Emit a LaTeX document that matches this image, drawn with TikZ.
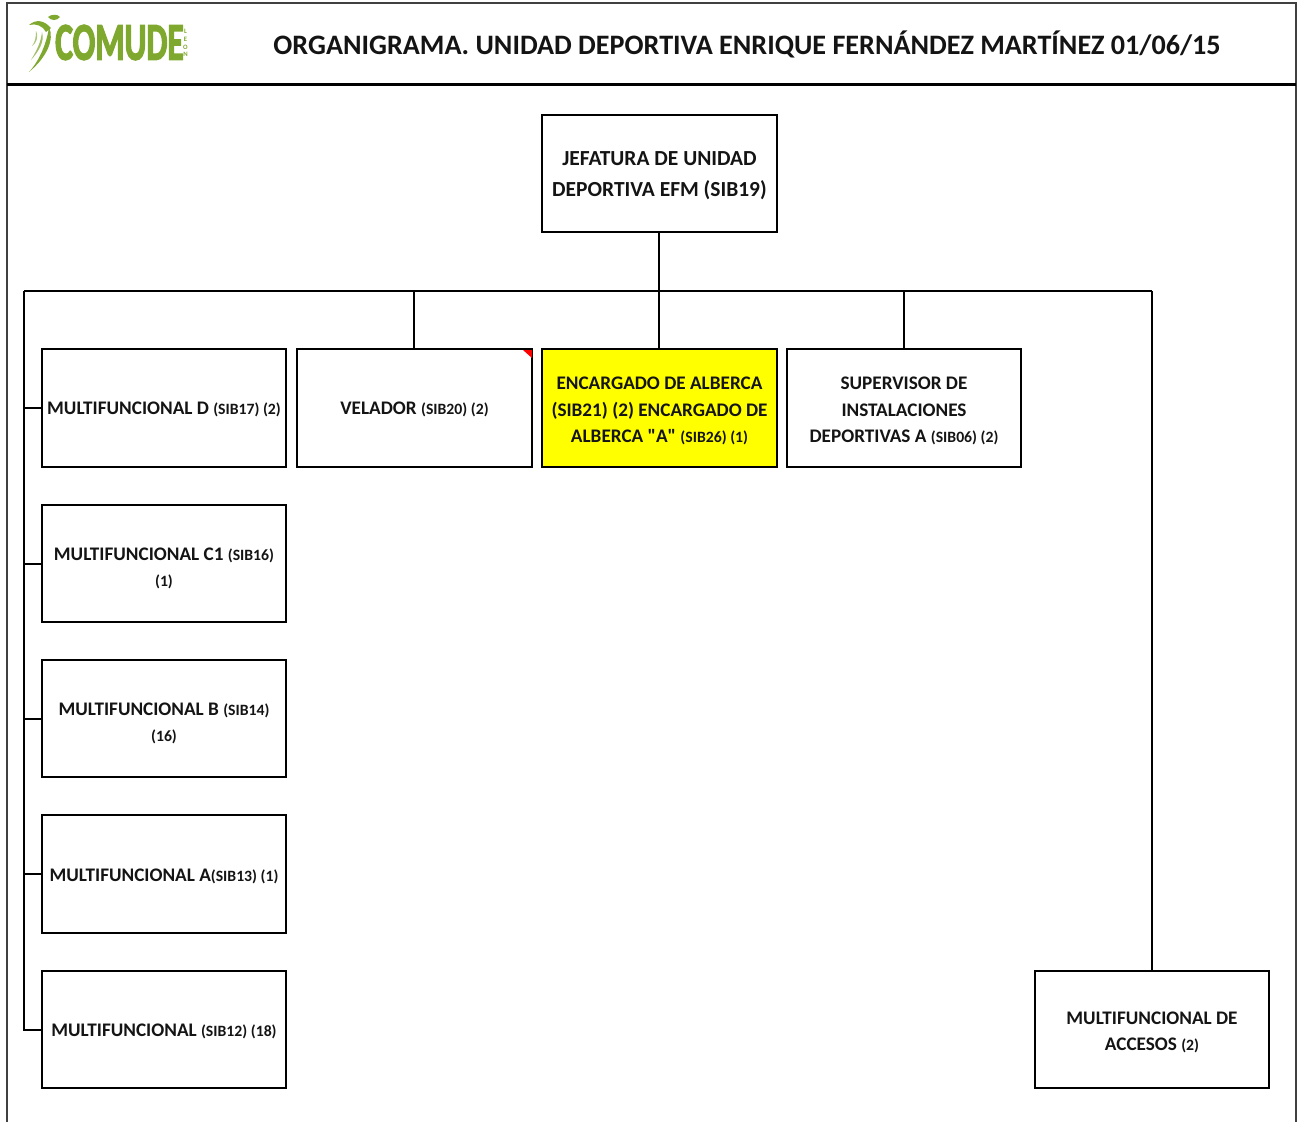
\documentclass[tikz,border=0pt]{standalone}
\usepackage{fontspec}
\setmainfont{Carlito}
\newfontfamily\logofont[FakeBold=3]{Carlito Bold}
\newfontfamily\plainq{Carlito Bold}
\definecolor{logogreen}{HTML}{7FA82E}
\definecolor{framegray}{HTML}{404040}
\definecolor{purey}{RGB}{255,255,0}
\newcommand{\smtxt}[1]{{\fontsize{11.8}{13}\selectfont #1}}
\newcommand{\dq}{{\plainq\char34 }}
\newcommand{\dn}[1]{\rule{0pt}{#1pt}}
\tikzset{
  x=0.75pt,y=-0.75pt,
  orgbox/.style={draw=black,line width=1.5pt,fill=white,rectangle,inner sep=0pt,align=center,font=\fontsize{14.4}{20}\bfseries\selectfont,text=black!92},
  lbox/.style={orgbox,minimum width=183pt,minimum height=88pt},
  wbox/.style={orgbox,minimum width=176.25pt,minimum height=88pt},
  nbox/.style={orgbox,minimum width=175.5pt,minimum height=88pt},
  conn/.style={draw=black,line width=1.5pt},
  frameline/.style={draw=framegray,line width=1.5pt},
  swoosh/.style={fill=logogreen,draw=none},
}
\begin{document}
\begin{tikzpicture}
\useasboundingbox (0,0) rectangle (1299,1122);
\fill[white] (0,0) rectangle (1299,1122);
% frame
\coordinate (fbl) at (7,1122);
\coordinate (ftl) at (7,3);
\coordinate (ftr) at (1296,3);
\coordinate (fbr) at (1296,1122);
\draw[frameline] (fbl) -- (ftl) -- (ftr) -- (fbr);
\coordinate (hl) at (7,84.5);
\coordinate (hr) at (1296,84.5);
\draw[draw=black,line width=2.25pt] (hl) -- (hr);
% title
\node[font=\fontsize{21.1}{24}\bfseries\selectfont,text=black!92,inner sep=0pt] (title) at (747,44.5) {ORGANIGRAMA. UNIDAD DEPORTIVA ENRIQUE FERNÁNDEZ MARTÍNEZ 01/06/15};
% logo
\node[font=\logofont\fontsize{33}{36}\selectfont,text=logogreen,inner sep=0pt,xscale=0.76,yscale=1.2] (logo) at (119.5,42.5) {COMUDE};
\node[font=\fontsize{5}{5.8}\bfseries\selectfont,text=logogreen,inner sep=0pt,align=center] (leon) at (185.5,43) {L\\E\\O\\N};
\fill[swoosh] (29,72) .. controls (40,60) and (47,42) .. (49,27) .. controls (55,40) and (46,58) .. (29,72) -- cycle;
\fill[swoosh] (51,28) .. controls (44,20) and (36,19) .. (29,25) .. controls (36,23) and (43,26) .. (46,32) -- cycle;
\fill[swoosh] (48,17) .. controls (51,14) and (58,14) .. (60,17) .. controls (57,21) and (51,21) .. (48,17) -- cycle;
\fill[swoosh,opacity=.75] (31,60) .. controls (37,50) and (41,42) .. (42,32) .. controls (45,42) and (38,52) .. (31,60) -- cycle;
\fill[swoosh,opacity=.65] (32,46) .. controls (35,42) and (36,38) .. (36,31) .. controls (39,38) and (36,43) .. (32,46) -- cycle;
% boxes
\node[wbox,font=\fontsize{16.1}{20}\bfseries\selectfont] (jef) at (659.5,173.5) {\dn{13.5}JEFATURA DE UNIDAD\\[3pt]DEPORTIVA EFM (SIB19)};
\node[wbox] (vel) at (414.5,408) {\dn{10.8}VELADOR \smtxt{(SIB20) (2)}};
\node[wbox,fill=purey] (alb) at (659.5,408) {\dn{13.8}ENCARGADO DE ALBERCA\\(SIB21) (2) ENCARGADO DE\\ALBERCA \dq A\dq{} \smtxt{(SIB26) (1)}};
\node[nbox] (sup) at (904,408) {\dn{13.8}SUPERVISOR DE\\INSTALACIONES\\DEPORTIVAS A \smtxt{(SIB06) (2)}};
\node[lbox] (md) at (164,408) {\dn{10.8}MULTIFUNCIONAL D \smtxt{(SIB17) (2)}};
\node[lbox] (mc) at (164,563.5) {\dn{17.5}MULTIFUNCIONAL C1 \smtxt{(SIB16)}\\[-0.5pt] \smtxt{(1)}};
\node[lbox] (mb) at (164,718.5) {\dn{17.5}MULTIFUNCIONAL B \smtxt{(SIB14)}\\[-0.5pt] \smtxt{(16)}};
\node[lbox] (ma) at (164,874) {\dn{12.3}MULTIFUNCIONAL A\smtxt{(SIB13) (1)}};
\node[lbox] (mm) at (164,1029.5) {\dn{12.3}MULTIFUNCIONAL \smtxt{(SIB12) (18)}};
\node[nbox] (acc) at (1152,1029.5) {\dn{13.8}MULTIFUNCIONAL DE\\ACCESOS \smtxt{(2)}};
% red comment marker
\fill[red] (523,350) -- (532,350) -- (532,358) -- cycle;
% connectors
\coordinate (busl) at (24,291);
\coordinate (busr) at (1152,291);
\draw[conn] (busl) -- (busr);
\draw[conn] ([xshift=-0.375pt]jef.south) -- ([xshift=-0.375pt]alb.north);
\draw[conn] ([xshift=-0.375pt]vel.north) -- ([xshift=-0.375pt]vel.north |- busl);
\draw[conn] (sup.north) -- (sup.north |- busl);
\draw[conn] (busr) -- (acc.north);
\draw[conn] (busl) |- (mm.west);
\draw[conn] (md.west) -- (md.west -| busl);
\draw[conn] (mc.west) -- (mc.west -| busl);
\draw[conn] (mb.west) -- (mb.west -| busl);
\draw[conn] (ma.west) -- (ma.west -| busl);
\end{tikzpicture}
\end{document}
